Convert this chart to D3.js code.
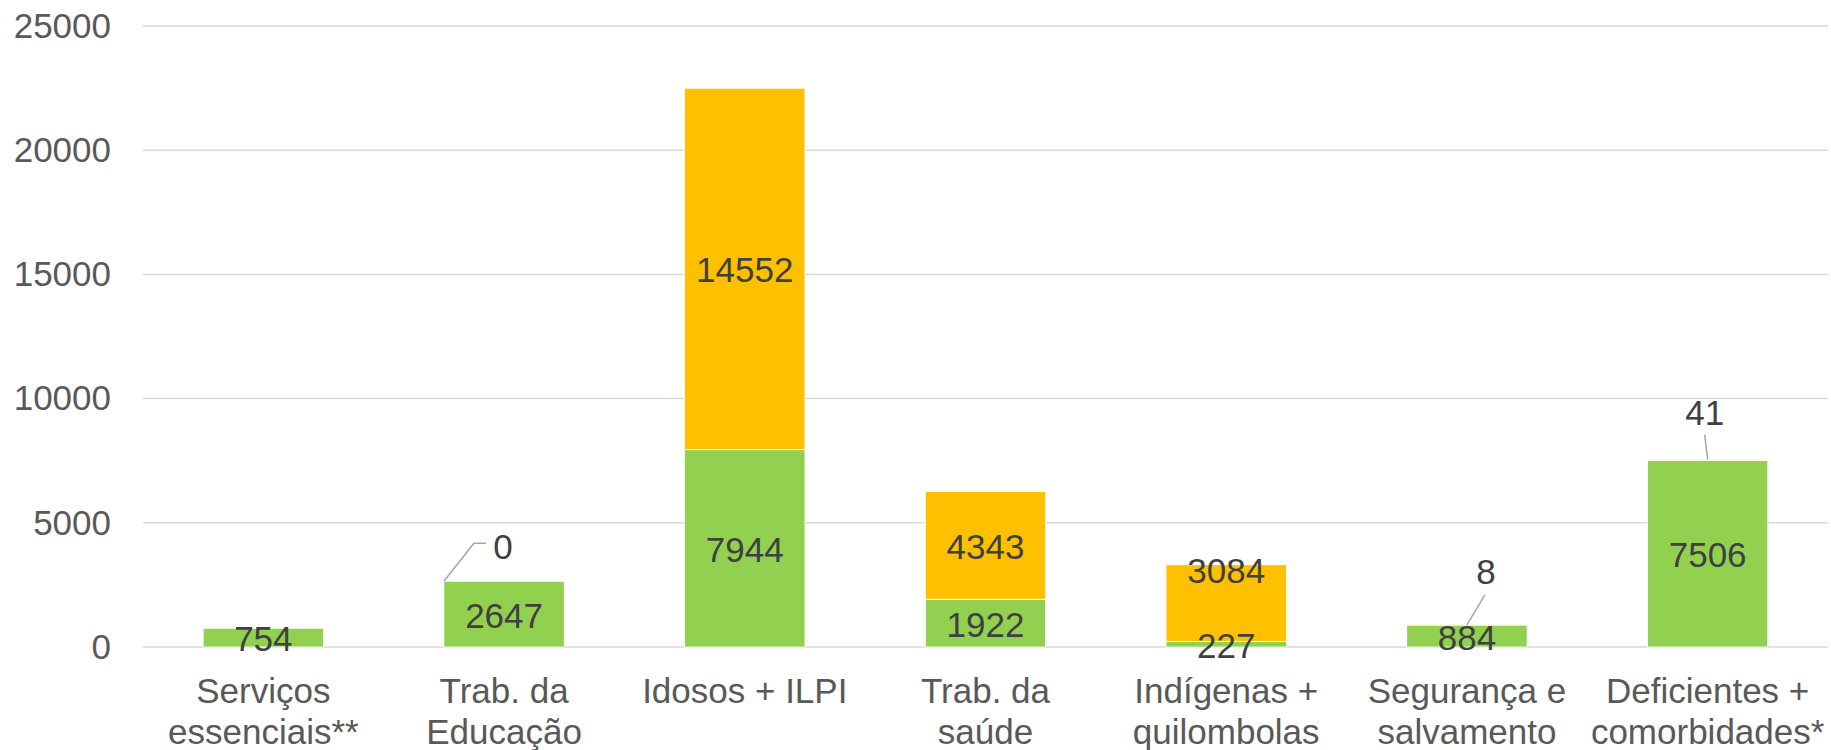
<!DOCTYPE html>
<html>
<head>
<meta charset="utf-8">
<script src="https://cdn.jsdelivr.net/npm/d3@7"></script>
<style>
  html, body { margin: 0; padding: 0; background: #fff; }
  svg { display: block; }
  text { font-family: "Liberation Sans", Arial, sans-serif; }
</style>
</head>
<body>
<svg id="chart" width="1831" height="750"></svg>
<script>
// ---- data ----
const categories = [
  ["Serviços", "essenciais**"],
  ["Trab. da", "Educação"],
  ["Idosos + ILPI"],
  ["Trab. da", "saúde"],
  ["Indígenas +", "quilombolas"],
  ["Segurança e", "salvamento"],
  ["Deficientes +", "comorbidades*"]
];
const greenValues  = [754, 2647, 7944, 1922, 227, 884, 7506];
const orangeValues = [null, 0, 14552, 4343, 3084, 8, 41];
const yTicks = [0, 5000, 10000, 15000, 20000, 25000];

// ---- layout ----
const W = 1831, H = 750;
const plot = { left: 143, right: 1828, top: 26, bottom: 647 };
const svg = d3.select("#chart");

const x = d3.scaleBand()
  .domain(d3.range(categories.length))
  .range([plot.left, plot.right])
  .paddingInner(0.5)
  .paddingOuter(0.25);
const y = d3.scaleLinear().domain([0, 25000]).range([plot.bottom, plot.top]);

// gridlines
svg.append("g").selectAll("line").data(yTicks).join("line")
  .attr("x1", plot.left).attr("x2", plot.right)
  .attr("y1", d => y(d)).attr("y2", d => y(d))
  .attr("stroke", "#D9D9D9").attr("stroke-width", 1.5);

// y axis labels
const yAxis = d3.axisLeft(y).tickValues(yTicks).tickSize(0).tickPadding(0).tickFormat(d3.format("d"));
const yg = svg.append("g").attr("transform", `translate(${plot.left - 32},0)`).call(yAxis);
yg.select(".domain").remove();
yg.selectAll("text").attr("fill", "#595959").style("font-size", "35px")
  .style("font-family", "'Liberation Sans', Arial, sans-serif");

// stacked data
const rows = categories.map((c, i) => ({ i, g: greenValues[i], o: orangeValues[i] }));

// green bars
svg.append("g").selectAll("rect").data(rows).join("rect")
  .attr("x", d => x(d.i)).attr("width", x.bandwidth())
  .attr("y", d => y(d.g)).attr("height", d => y(0) - y(d.g))
  .attr("fill", "#92D050").attr("stroke", "#ffffff").attr("stroke-width", 0.8);

// orange bars
svg.append("g").selectAll("rect").data(rows.filter(d => d.o)).join("rect")
  .attr("x", d => x(d.i)).attr("width", x.bandwidth())
  .attr("y", d => y(d.g + d.o)).attr("height", d => y(d.g) - y(d.g + d.o))
  .attr("fill", "#FFC000").attr("stroke", "#ffffff").attr("stroke-width", 0.8);

const labelStyle = sel => sel.attr("fill", "#404040").style("font-size", "35px")
  .attr("text-anchor", "middle").attr("dominant-baseline", "central");

// green labels (centered in segment)
svg.append("g").selectAll("text").data(rows).join("text")
  .attr("x", d => x(d.i) + x.bandwidth() / 2)
  .attr("y", d => y(d.g / 2) + 1)
  .text(d => d.g)
  .call(labelStyle);

// orange labels
const cx = i => x(i) + x.bandwidth() / 2;
const lbl = svg.append("g");
const leader = svg.append("g").attr("stroke", "#A6A6A6").attr("stroke-width", 1.5).attr("fill", "none");

rows.forEach(d => {
  if (d.o === null) return;
  const top = y(d.g + d.o);
  if (d.o >= 1000) {
    // large segment
    let ly = y(d.g + d.o / 2) + 1;
    if (d.o < 4000) ly = top + 6; // short segment: label near top
    lbl.append("text").attr("x", cx(d.i)).attr("y", ly).text(d.o).call(labelStyle);
  } else if (d.o === 0) {
    // callout to upper right of bar corner
    const x0 = x(d.i), y0 = top;
    lbl.append("text").attr("x", x0 + 59).attr("y", y0 - 35).text(d.o).call(labelStyle);
    leader.append("polyline").attr("points", `${x0},${y0} ${x0 + 30},${y0 - 38} ${x0 + 42},${y0 - 38}`);
  } else if (d.o < 20) {
    // small callout above-right
    lbl.append("text").attr("x", cx(d.i) + 19).attr("y", top - 53).text(d.o).call(labelStyle);
    leader.append("line").attr("x1", cx(d.i)).attr("y1", top)
      .attr("x2", cx(d.i) + 18).attr("y2", top - 30);
  } else {
    lbl.append("text").attr("x", cx(d.i) - 3).attr("y", top - 47).text(d.o).call(labelStyle);
    leader.append("line").attr("x1", cx(d.i)).attr("y1", top)
      .attr("x2", cx(d.i) - 3).attr("y2", top - 25);
  }
});

// category labels
const cg = svg.append("g");
categories.forEach((lines, i) => {
  const t = cg.append("text").attr("x", cx(i)).attr("y", 703)
    .attr("text-anchor", "middle").attr("fill", "#595959").style("font-size", "35px");
  lines.forEach((ln, k) => {
    t.append("tspan").attr("x", cx(i)).attr("dy", k === 0 ? 0 : 41).text(ln);
  });
});
</script>
</body>
</html>
